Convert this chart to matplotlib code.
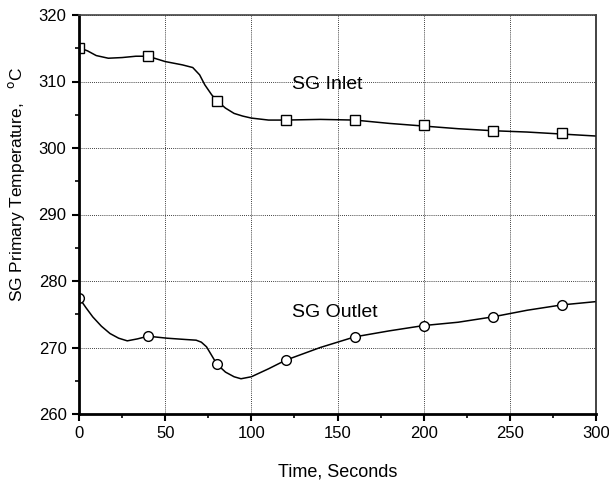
import matplotlib.pyplot as plt
from matplotlib.ticker import MultipleLocator

plt.rcParams['font.family'] = ['Liberation Sans', 'DejaVu Sans']

# SG inlet temperature curve
inlet_t = [0, 5, 10, 17, 25, 33, 40, 50, 60, 66, 70, 73, 77, 80, 85, 90, 95, 100,
           110, 120, 140, 160, 180, 200, 220, 240, 260, 280, 300]
inlet_T = [315.1, 314.6, 313.9, 313.5, 313.6, 313.8, 313.8, 313.0, 312.5, 312.1,
           311.0, 309.5, 308.0, 307.1, 306.0, 305.2, 304.8, 304.5, 304.2, 304.2,
           304.3, 304.2, 303.7, 303.3, 302.9, 302.6, 302.4, 302.1, 301.8]

# SG outlet temperature curve
outlet_t = [0, 4, 8, 13, 18, 23, 28, 34, 40, 51, 62, 68, 71, 74, 77, 80, 85, 90,
            94, 100, 110, 120, 140, 160, 180, 200, 220, 240, 260, 280, 300]
outlet_T = [277.5, 276.0, 274.6, 273.2, 272.1, 271.4, 271.0, 271.3, 271.7, 271.4,
            271.2, 271.1, 270.8, 270.1, 268.8, 267.5, 266.3, 265.6, 265.3, 265.6,
            266.8, 268.1, 270.0, 271.6, 272.5, 273.3, 273.8, 274.6, 275.6, 276.4, 276.9]

# marker positions
mark_t = [0, 40, 80, 120, 160, 200, 240, 280]
inlet_mark = [315.1, 313.8, 307.1, 304.2, 304.2, 303.4, 302.6, 302.2]
outlet_mark = [277.5, 271.7, 267.5, 268.1, 271.6, 273.3, 274.6, 276.4]

fig = plt.figure(figsize=(6.09, 4.8), dpi=100)
ax = fig.add_axes([79 / 609, 1 - 414 / 480, (596 - 79) / 609, (414 - 15) / 480])

ax.plot(inlet_t, inlet_T, color='black', lw=1.1)
ax.plot(mark_t, inlet_mark, ls='none', marker='s', ms=7, mfc='white', mec='black', mew=1)
ax.plot(outlet_t, outlet_T, color='black', lw=1.1)
ax.plot(mark_t, outlet_mark, ls='none', marker='o', ms=7, mfc='white', mec='black', mew=1)

ax.text(123.5, 309.5, 'SG Inlet', fontsize=14, va='center', ha='left')
ax.text(123.5, 275.3, 'SG Outlet', fontsize=14, va='center', ha='left')

ax.set_xlim(0, 300)
ax.set_ylim(260, 320)
ax.xaxis.set_major_locator(MultipleLocator(50))
ax.xaxis.set_minor_locator(MultipleLocator(25))
ax.yaxis.set_major_locator(MultipleLocator(10))
ax.yaxis.set_minor_locator(MultipleLocator(5))
ax.tick_params(which='major', direction='out', length=5, width=1.5, labelsize=12, pad=4)
ax.tick_params(which='minor', direction='out', length=3, width=1.2)

ax.grid(True, which='major', color='black', ls=(0, (1, 1.5)), lw=0.6)

ax.spines['left'].set_linewidth(2)
ax.spines['bottom'].set_linewidth(2)
ax.spines['top'].set_linewidth(1.2)
ax.spines['right'].set_linewidth(1.2)
ax.spines['top'].set_color('#444444')
ax.spines['right'].set_color('#222222')

ax.set_xlabel('Time, Seconds', fontsize=13)
ax.xaxis.set_label_coords(0.5, -0.125)
ax.set_ylabel('SG Primary Temperature,   $^{\\rm o}$C', fontsize=12.5)
ax.yaxis.set_label_coords(-0.1, 0.575)

fig.savefig('out.png', dpi=100)
